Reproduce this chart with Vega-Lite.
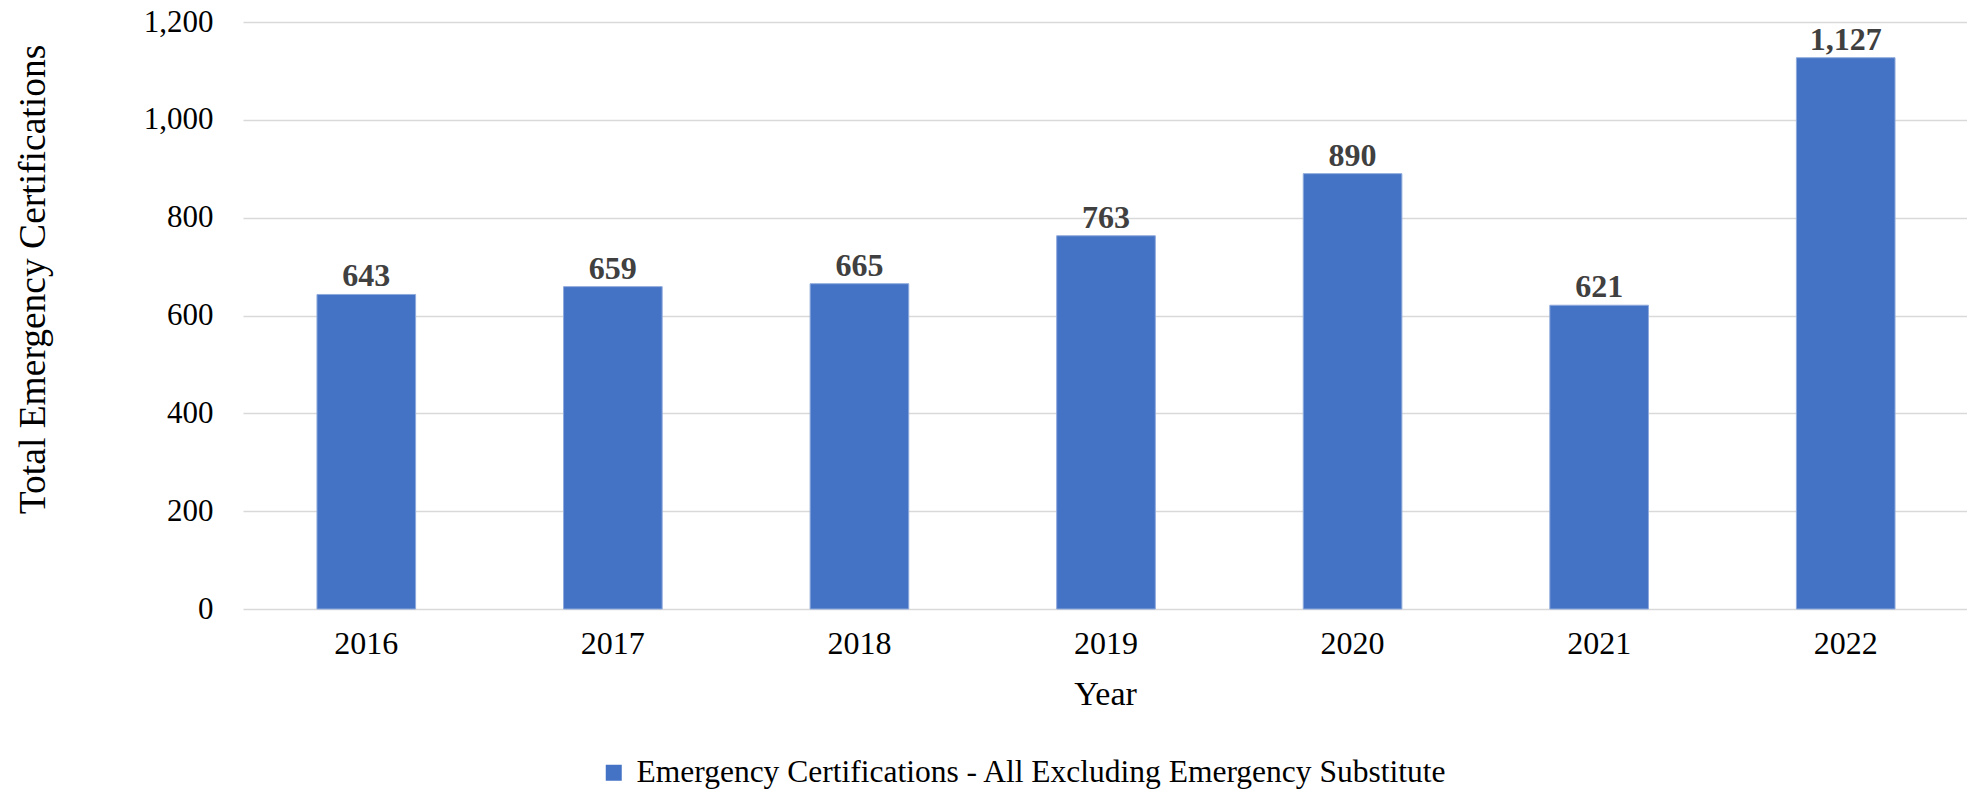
{
  "$schema": "https://vega.github.io/schema/vega-lite/v6.json",
  "width": 1726,
  "height": 587,
  "autosize": "none",
  "padding": {"left": 243, "top": 22, "right": 0, "bottom": 182},
  "background": "white",
  "config": {
    "view": {"stroke": null},
    "font": "Liberation Serif",
    "legend": {"labelFont": "Liberation Serif", "labelFontSize": 31.5, "labelColor": "#000000"},
    "text": {"font": "Liberation Serif"}
  },
  "data": {
    "values": [
      {"year": "2016", "value": 643, "series": "Emergency Certifications - All Excluding Emergency Substitute"},
      {"year": "2017", "value": 659, "series": "Emergency Certifications - All Excluding Emergency Substitute"},
      {"year": "2018", "value": 665, "series": "Emergency Certifications - All Excluding Emergency Substitute"},
      {"year": "2019", "value": 763, "series": "Emergency Certifications - All Excluding Emergency Substitute"},
      {"year": "2020", "value": 890, "series": "Emergency Certifications - All Excluding Emergency Substitute"},
      {"year": "2021", "value": 621, "series": "Emergency Certifications - All Excluding Emergency Substitute"},
      {"year": "2022", "value": 1127, "series": "Emergency Certifications - All Excluding Emergency Substitute"}
    ]
  },
  "encoding": {
    "x": {
      "field": "year",
      "type": "nominal",
      "scale": {"paddingInner": 0.6, "paddingOuter": 0.3},
      "axis": {
        "title": "Year",
        "labelAngle": 0,
        "labelFont": "Liberation Serif",
        "labelFontSize": 32,
        "labelColor": "#000000",
        "labelPadding": 19,
        "ticks": false,
        "domain": false,
        "titleFont": "Liberation Serif",
        "titleFontSize": 34,
        "titleFontWeight": "normal",
        "titleColor": "#000000",
        "titleX": 862,
        "titleY": 95,
        "titleBaseline": "alphabetic",
        "titleAlign": "center"
      }
    },
    "y": {
      "field": "value",
      "type": "quantitative",
      "scale": {"domain": [0, 1200]},
      "axis": {
        "title": "Total Emergency Certifications",
        "values": [0, 200, 400, 600, 800, 1000, 1200],
        "format": ",d",
        "labelFont": "Liberation Serif",
        "labelFontSize": 31,
        "labelColor": "#000000",
        "labelPadding": 30,
        "ticks": false,
        "domain": false,
        "grid": true,
        "gridColor": "#D9D9D9",
        "gridWidth": 1.3,
        "titleFont": "Liberation Serif",
        "titleFontSize": 37.5,
        "titleFontWeight": "normal",
        "titleColor": "#000000",
        "titleAngle": -90,
        "titleX": -210,
        "titleY": 257,
        "titleAlign": "center",
        "titleBaseline": "middle"
      }
    }
  },
  "layer": [
    {
      "mark": {"type": "bar", "stroke": "#8FAADC", "strokeWidth": 1},
      "encoding": {
        "color": {
          "field": "series",
          "type": "nominal",
          "scale": {"range": ["#4472C4"]},
          "legend": {
            "title": null,
            "orient": "none",
            "legendX": 355,
            "legendY": 735,
            "symbolType": "square",
            "symbolSize": 256,
            "symbolStrokeWidth": 0,
            "labelFont": "Liberation Serif",
            "labelFontSize": 31.5,
            "labelColor": "#000000",
            "labelOffset": 7,
            "labelLimit": 0,
            "padding": 0
          }
        }
      }
    },
    {
      "mark": {
        "type": "text",
        "dy": -8,
        "baseline": "alphabetic",
        "font": "Liberation Serif",
        "fontSize": 32,
        "fontWeight": "bold",
        "color": "#404040"
      },
      "encoding": {
        "text": {"field": "value", "type": "quantitative", "format": ",d"}
      }
    }
  ]
}
